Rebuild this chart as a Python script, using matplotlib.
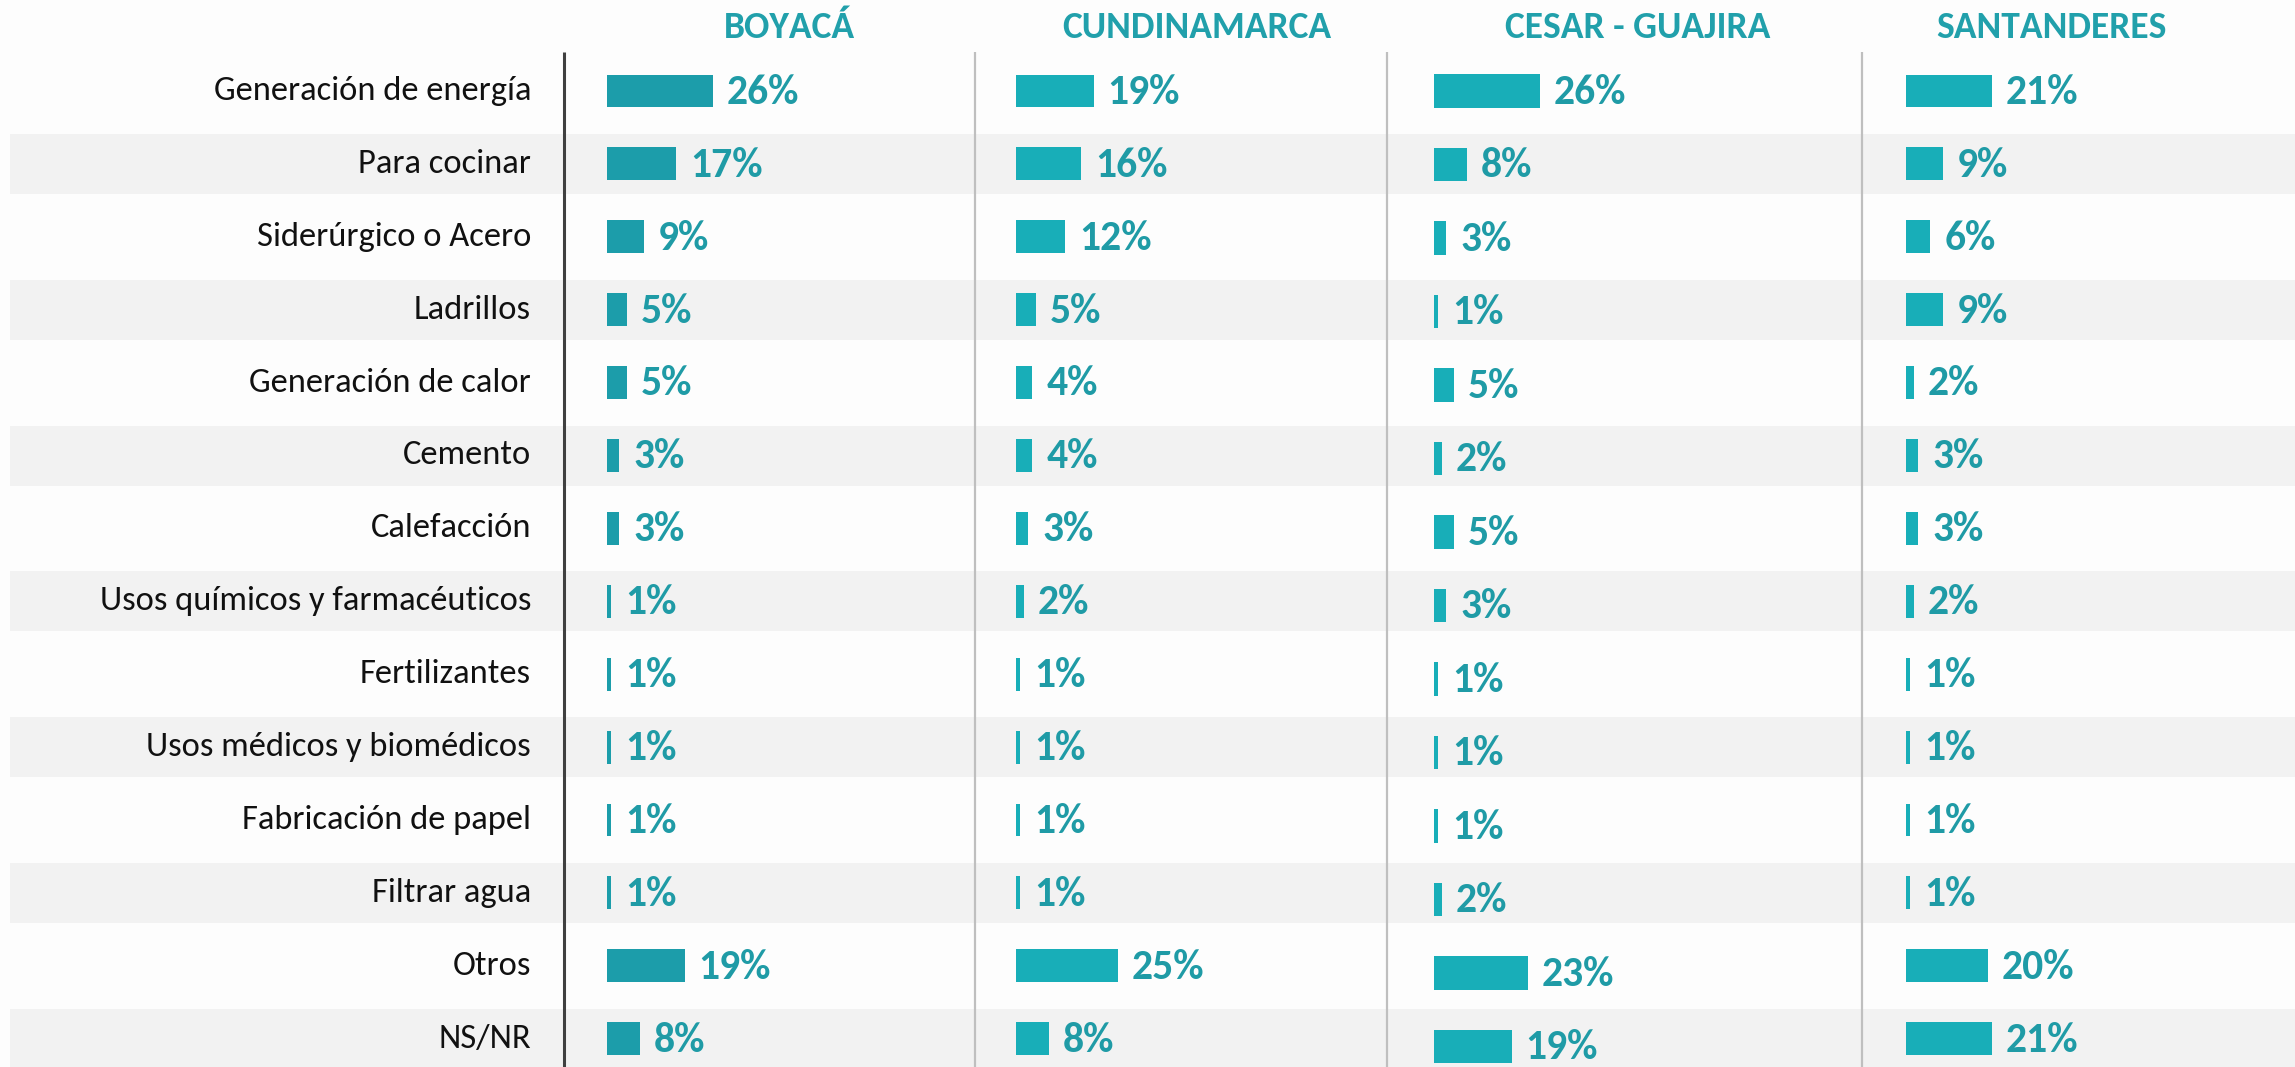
import matplotlib.pyplot as plt

plt.rcParams['font.family'] = ['Carlito', 'Lato', 'DejaVu Sans']

categories = [
    "Generación de energía", "Para cocinar", "Siderúrgico o Acero", "Ladrillos",
    "Generación de calor", "Cemento", "Calefacción", "Usos químicos y farmacéuticos",
    "Fertilizantes", "Usos médicos y biomédicos", "Fabricación de papel",
    "Filtrar agua", "Otros", "NS/NR",
]
regions = ["BOYACÁ", "CUNDINAMARCA", "CESAR - GUAJIRA", "SANTANDERES"]

boyaca = [26, 17, 9, 5, 5, 3, 3, 1, 1, 1, 1, 1, 19, 8]
cundinamarca = [19, 16, 12, 5, 4, 4, 3, 2, 1, 1, 1, 1, 25, 8]
cesar_guajira = [26, 8, 3, 1, 5, 2, 5, 3, 1, 1, 1, 2, 23, 19]
santanderes = [21, 9, 6, 9, 2, 3, 3, 2, 1, 1, 1, 1, 20, 21]

W, H = 2295, 1067
ROW0 = 91          # pixel centre of first row
PITCH = 72.9       # pixel distance between rows
PX_PER_PCT = 4.08

TEAL_TXT = "#1F9BA6"
BAR_COLORS = ["#1C9DAA", "#18AEB8", "#18AEB8", "#18AEB8"]


def row_limits(pitch):
    n = len(categories)
    bottom = (n - 1) + (H - ROW0 - (n - 1) * pitch) / pitch
    top = -ROW0 / pitch
    return bottom, top


fig = plt.figure(figsize=(W / 100, H / 100), dpi=100)
fig.patch.set_facecolor("#FDFDFD")

# background layer in pixel coordinates
bg = fig.add_axes([0, 0, 1, 1])
bg.set_xlim(0, W)
bg.set_ylim(H, 0)
bg.axis("off")

for i, cat in enumerate(categories):
    yc = ROW0 + PITCH * i
    if i % 2 == 1:
        bg.fill_between([10, W], yc - 30, yc + 30, color="#F2F2F2", lw=0, zorder=0)
    bg.text(531, yc, cat, ha="right", va="center", fontsize=24.8, color="#111111")

bg.plot([564, 564], [52, H], color="#404040", lw=2.2, solid_capstyle="butt")
for x in [975, 1387, 1862]:
    bg.plot([x, x], [52, H], color="#BFBFBF", lw=1.6, solid_capstyle="butt")

header_x = [789, 1197, 1638, 2051]
for x, name in zip(header_x, regions):
    bg.text(x, 27, name, ha="center", va="center", fontsize=27,
            fontweight="bold", color="#21A0AB")

# bar columns
series = [boyaca, cundinamarca, cesar_guajira, santanderes]
starts = [607, 1016, 1434, 1906]
pitches = [PITCH, PITCH, 73.5, PITCH]
col_w = 340

for vals, x0, pitch, color in zip(series, starts, pitches, BAR_COLORS):
    ax = fig.add_axes([x0 / W, 0, col_w / W, 1])
    ax.patch.set_alpha(0)
    ax.set_xlim(0, col_w / PX_PER_PCT)
    ax.set_ylim(*row_limits(pitch))
    ax.axis("off")
    ys = list(range(len(vals)))
    ax.barh(ys, vals, height=0.45, color=color, edgecolor="none")
    for y, v in zip(ys, vals):
        ax.annotate(f"{v}%", (v, y), xytext=(10, -1), textcoords="offset points",
                    ha="left", va="center", fontsize=30, fontweight="bold",
                    color=TEAL_TXT)

fig.savefig("out.png", dpi=100, facecolor=fig.get_facecolor())
